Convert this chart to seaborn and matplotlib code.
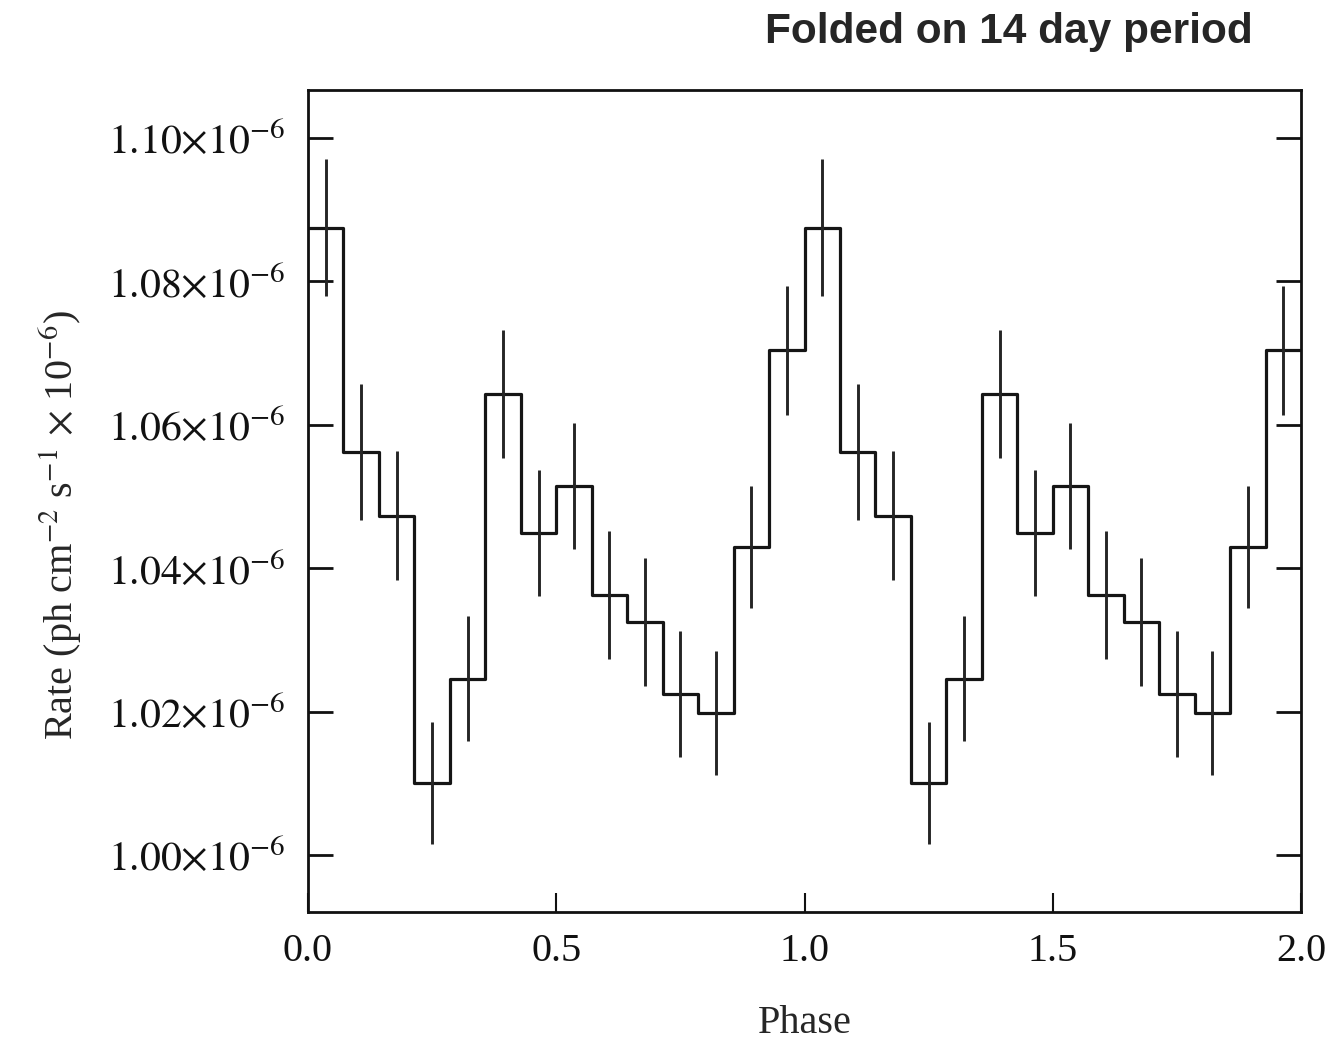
import numpy as np
import pandas as pd
import matplotlib
matplotlib.use("Agg")
import matplotlib.pyplot as plt
import seaborn as sns
from matplotlib.ticker import FuncFormatter, FixedLocator

# ---- data (rate in units of 1e-6 ph cm^-2 s^-1), one 14-bin cycle ----
rate_cycle = [1.0875, 1.0562, 1.0473, 1.0101, 1.0246, 1.0643, 1.0449,
              1.0515, 1.0363, 1.0325, 1.0224, 1.0198, 1.0430, 1.0704]
err_cycle = [0.0096, 0.0095, 0.0090, 0.0085, 0.0087, 0.0089, 0.0088,
             0.0088, 0.0089, 0.0089, 0.0088, 0.0087, 0.0085, 0.0090]
n_cycles = 2
y_ticks = [1.00, 1.02, 1.04, 1.06, 1.08, 1.10]
x_ticks = [0.0, 0.5, 1.0, 1.5, 2.0]
title = "Folded on 14 day period"
xlabel = "Phase"
ylabel = r"Rate (ph cm$^{-2}$ s$^{-1}$ $\times$ 10$^{-6}$)"

nb = len(rate_cycle)
rate = np.concatenate([rate_cycle] * n_cycles)
err = np.concatenate([err_cycle] * n_cycles)
edges = np.arange(nb * n_cycles + 1) / nb
centers = 0.5 * (edges[:-1] + edges[1:])

step_df = pd.DataFrame({"phase": edges, "rate": np.append(rate, rate[-1])})

sns.set_theme(style="ticks")
plt.rcParams["font.family"] = ["Liberation Serif", "DejaVu Serif"]
plt.rcParams["mathtext.fontset"] = "stix"

fig = plt.figure(figsize=(13.35, 10.42), dpi=100)
ax = fig.add_axes([308 / 1335, 1 - 912 / 1042, (1301 - 308) / 1335, (912 - 90) / 1042])

sns.lineplot(data=step_df, x="phase", y="rate", drawstyle="steps-post",
             color="#151515", linewidth=2.3, ax=ax, estimator=None, sort=False)
ax.errorbar(centers, rate, yerr=err, fmt="none", ecolor="#252525",
            elinewidth=2.1, capsize=0)

ax.set_xlim(0, 2)
ax.set_ylim(0.99205, 1.1067)
ax.xaxis.set_major_locator(FixedLocator(x_ticks))
ax.yaxis.set_major_locator(FixedLocator(y_ticks))
ax.xaxis.set_major_formatter(FuncFormatter(lambda v, p: f"{v:.1f}"))
ax.yaxis.set_major_formatter(FuncFormatter(lambda v, p: r"$%.2f{\times}10^{-6}$" % v))

for s in ax.spines.values():
    s.set_linewidth(2.0)
    s.set_color("#111111")
ax.tick_params(axis="y", which="major", direction="in", length=18, width=2.0,
               left=True, right=True, labelsize=30, pad=16, colors="#111111")
ax.tick_params(axis="x", which="major", direction="in", length=14, width=1.5,
               bottom=True, top=False, labelsize=29, pad=15, colors="#111111")

ax.set_xlabel(xlabel, fontsize=29, labelpad=25)
ax.set_ylabel(ylabel, fontsize=29)
ax.yaxis.set_label_coords(-0.226, 0.47)

fig.text(1253 / 1335, 1 - 32 / 1042, title, ha="right", va="center",
         fontsize=30.5, fontweight="bold", family=["Liberation Sans", "DejaVu Sans"])

fig.savefig("out.png", dpi=100)
